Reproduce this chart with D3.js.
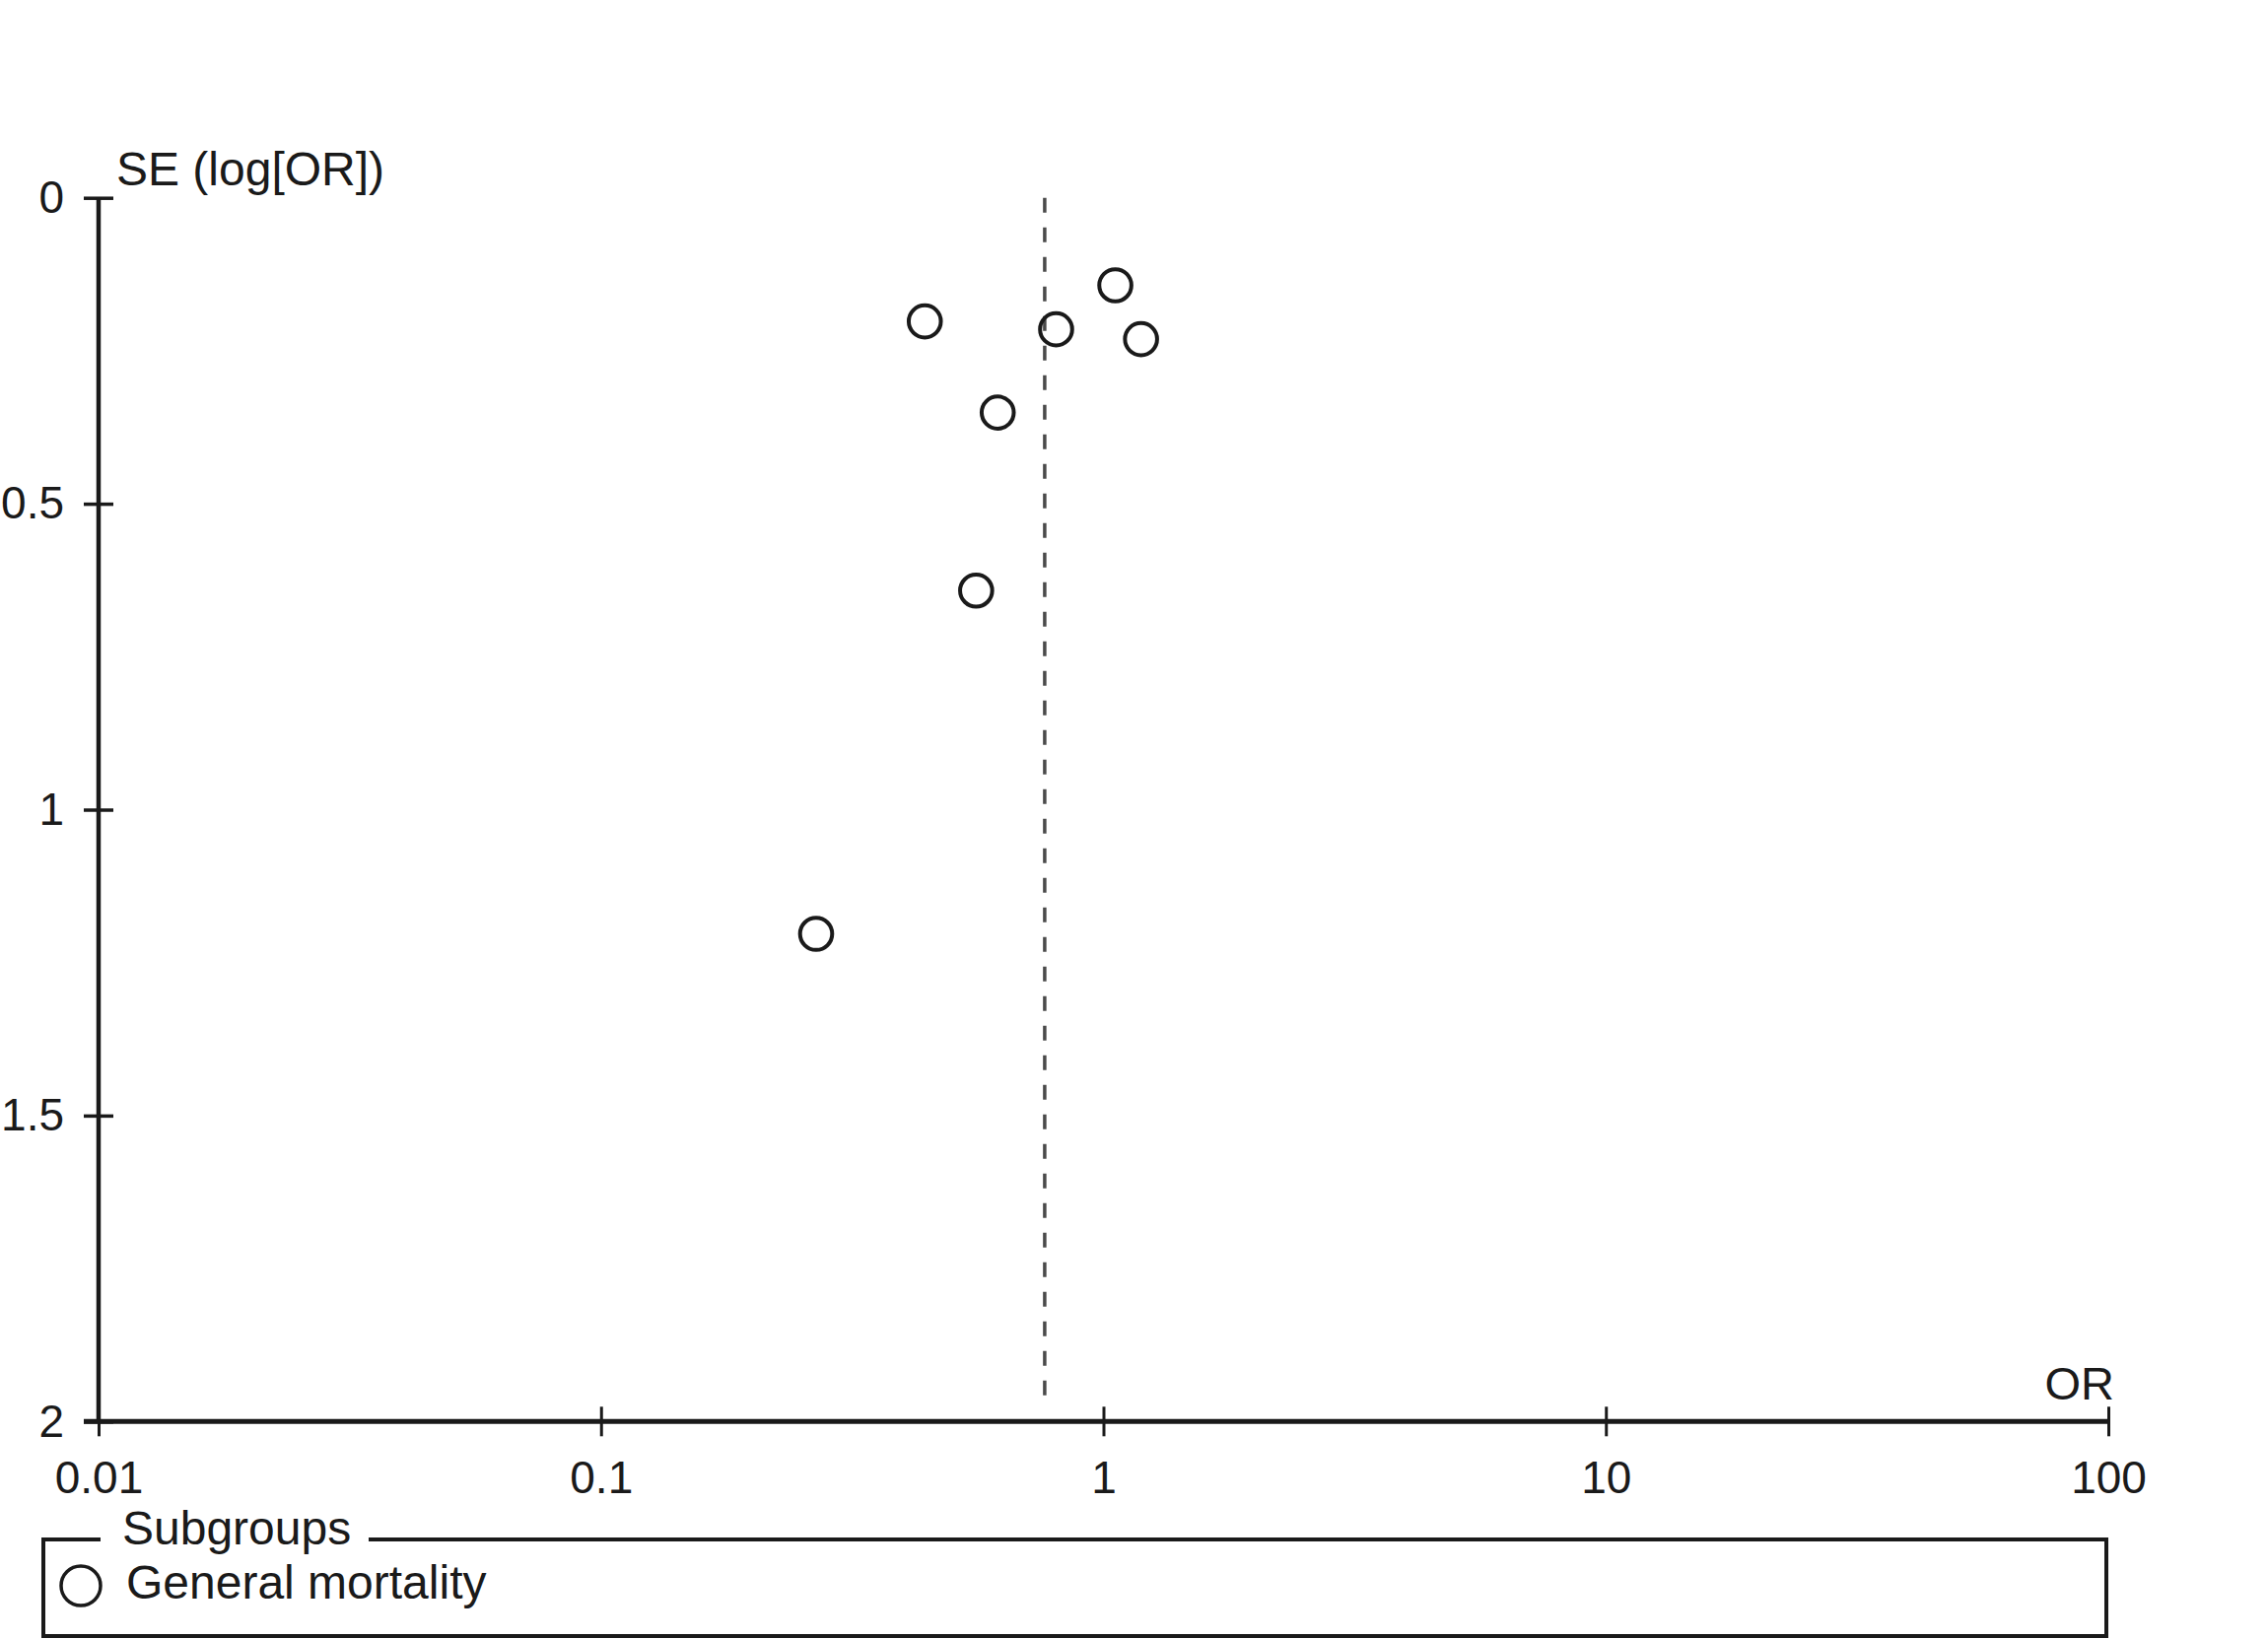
<!DOCTYPE html>
<html>
<head>
<meta charset="utf-8">
<script src="https://cdn.jsdelivr.net/npm/d3@7/dist/d3.min.js"></script>
<style>
  html, body { margin: 0; padding: 0; background: #fff; }
  svg { display: block; }
  text { font-family: "Liberation Sans", Arial, Helvetica, sans-serif; fill: #1a1a1a; }
</style>
</head>
<body>
<svg id="chart" width="2301" height="1663" viewBox="0 0 2301 1663"></svg>
<script>
// ---- Data ----
const studyOR = [1.056, 0.441, 0.805, 1.188, 0.616, 0.558, 0.268];
const studySE = [0.143, 0.202, 0.215, 0.231, 0.351, 0.642, 1.203];
const pooledOR = [0.764];
const xTickValues = [0.01, 0.1, 1, 10, 100];
const xTickLabels = ["0.01", "0.1", "1", "10", "100"];
const yTickValues = [0, 0.5, 1, 1.5, 2];
const yTickLabels = ["0", "0.5", "1", "1.5", "2"];
const yAxisTitle = "SE (log[OR])";
const xAxisTitle = "OR";
const legendTitle = "Subgroups";
const legendItems = ["General mortality"];

const ink = "#1a1a1a";
const svg = d3.select("#chart");

const x = d3.scaleLog().domain([0.01, 100]).range([100, 2139]);
const y = d3.scaleLinear().domain([0, 2]).range([200.7, 1442.3]);

const fs = 46;

// Y axis
const yAxis = d3.axisLeft(y)
  .tickValues(yTickValues)
  .tickSize(15)
  .tickPadding(20)
  .tickFormat((d, i) => yTickLabels[i]);
const gy = svg.append("g").attr("transform", `translate(${x(0.01)},0)`).call(yAxis);
gy.select(".domain").remove();
gy.selectAll(".tick line").attr("x1", 15).attr("stroke", ink).attr("stroke-width", 3.5);
gy.selectAll(".tick text").attr("font-size", fs).attr("fill", ink)
  .attr("font-family", "Liberation Sans, Arial, sans-serif");
gy.append("line")
  .attr("x1", 0).attr("x2", 0)
  .attr("y1", y(0)).attr("y2", y(2))
  .attr("stroke", ink).attr("stroke-width", 4.5);

// X axis
const xAxis = d3.axisBottom(x)
  .tickValues(xTickValues)
  .tickSize(15)
  .tickPadding(25)
  .tickFormat((d, i) => xTickLabels[i]);
const gx = svg.append("g").attr("transform", `translate(0,${y(2)})`).call(xAxis);
gx.select(".domain").remove();
gx.selectAll(".tick line").attr("y1", -15).attr("stroke", ink).attr("stroke-width", 3);
gx.selectAll(".tick text").attr("font-size", fs).attr("fill", ink)
  .attr("font-family", "Liberation Sans, Arial, sans-serif");
gx.append("line")
  .attr("x1", x(0.01) - 15).attr("x2", x(100))
  .attr("y1", 0).attr("y2", 0)
  .attr("stroke", ink).attr("stroke-width", 5);

// Axis titles
svg.append("text")
  .attr("x", x(0.01) + 18).attr("y", 188)
  .attr("font-size", 48)
  .text(yAxisTitle);
svg.append("text")
  .attr("x", x(100) + 6).attr("y", 1420)
  .attr("text-anchor", "end")
  .attr("font-size", 47)
  .text(xAxisTitle);

// Pooled estimate dashed line
svg.selectAll("line.pooled").data(pooledOR).enter().append("line")
  .attr("class", "pooled")
  .attr("x1", d => x(d)).attr("x2", d => x(d))
  .attr("y1", y(0)).attr("y2", y(2) - 12)
  .attr("stroke", "#4a4a4a").attr("stroke-width", 3.5)
  .attr("stroke-dasharray", "15,15");

// Study points
const pts = studyOR.map((v, i) => ({ or: v, se: studySE[i] }));
svg.selectAll("circle.study").data(pts).enter().append("circle")
  .attr("class", "study")
  .attr("cx", d => x(d.or)).attr("cy", d => y(d.se))
  .attr("r", 16.3)
  .attr("fill", "none")
  .attr("stroke", ink).attr("stroke-width", 4);

// Legend
const L = { left: 44, right: 2137, top: 1562, bottom: 1660, gapL: 102, gapR: 374 };
svg.append("path")
  .attr("d", `M${L.gapL},${L.top} H${L.left} V${L.bottom} H${L.right} V${L.top} H${L.gapR}`)
  .attr("fill", "none").attr("stroke", ink).attr("stroke-width", 4);
svg.append("text")
  .attr("x", 124).attr("y", 1567)
  .attr("font-size", 48)
  .text(legendTitle);
legendItems.forEach((t, i) => {
  svg.append("circle")
    .attr("cx", 82).attr("cy", 1609 + i * 50)
    .attr("r", 20)
    .attr("fill", "none").attr("stroke", ink).attr("stroke-width", 3.5);
  svg.append("text")
    .attr("x", 128).attr("y", 1622 + i * 50)
    .attr("font-size", 48)
    .text(t);
});
</script>
</body>
</html>
